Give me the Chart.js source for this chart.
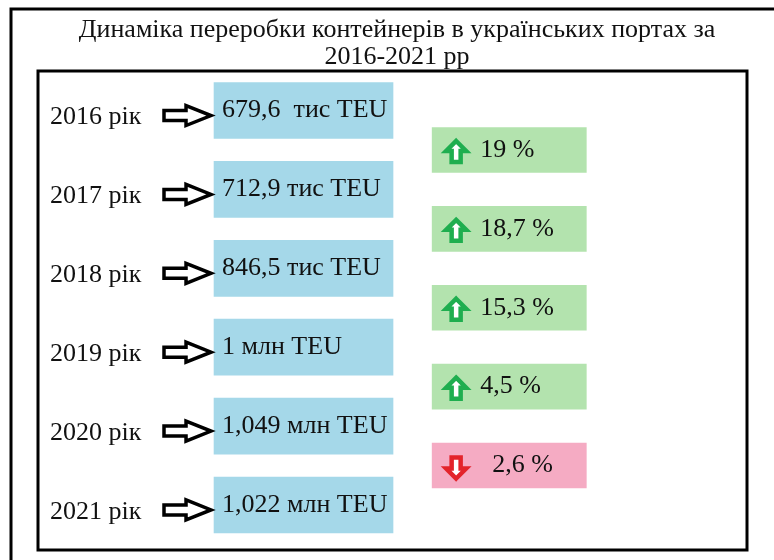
<!DOCTYPE html>
<html lang="uk">
<head>
    <meta charset="UTF-8">
    <title>Динаміка переробки контейнерів</title>
    <script src="https://cdn.jsdelivr.net/npm/chart.js"></script>
    <style>
        body { margin: 0; background: #fff; }
        #wrap { width: 774px; height: 560px; }
    </style>
</head>
<body>
    <div id="wrap"><canvas id="infoChart" width="774" height="560"></canvas></div>

    <script>
        // data
        const years = ['2016 рік', '2017 рік', '2018 рік', '2019 рік', '2020 рік', '2021 рік'];
        const volumeTeuK = [679.6, 712.9, 846.5, 1000, 1049, 1022];
        const volumeLabels = ['679,6  тис TEU', '712,9 тис TEU', '846,5 тис TEU', '1 млн TEU', '1,049 млн TEU', '1,022 млн TEU'];
        const changePct = [19, 18.7, 15.3, 4.5, -2.6];
        const changeLabels = ['19 %', '18,7 %', '15,3 %', '4,5 %', '2,6 %'];

        const FONT = '"Liberation Serif", "DejaVu Serif", serif';
        const BLUE_SPAN = [9.25, 39.9];   // box extent on the hidden x scale
        const CHANGE_SPAN = [46.6, 73.0];
        const CHANGE_SHIFT = 0.5;         // change boxes sit between year rows

        const blueBoxes = years.map((y, i) => ({ x: BLUE_SPAN, y: y, teu: volumeTeuK[i], text: volumeLabels[i] }));
        const changeBoxes = changePct.map((p, i) => ({ x: CHANGE_SPAN, y: i + CHANGE_SHIFT, pct: p, text: changeLabels[i] }));

        function blockArrow(ctx, x0, x1, y) {
            const xh = x1 - 25;
            ctx.beginPath();
            ctx.moveTo(x0, y - 5);
            ctx.lineTo(xh, y - 5);
            ctx.lineTo(xh, y - 10);
            ctx.lineTo(x1, y);
            ctx.lineTo(xh, y + 10);
            ctx.lineTo(xh, y + 5);
            ctx.lineTo(x0, y + 5);
            ctx.closePath();
            ctx.fillStyle = '#fff';
            ctx.fill();
            ctx.lineWidth = 3.5;
            ctx.lineJoin = 'miter';
            ctx.strokeStyle = '#000';
            ctx.stroke();
        }

        function trendArrow(ctx, cx, cy, up, color) {
            const d = up ? 1 : -1;
            const t = cy - 11 * d, b = cy + 10 * d, n = t + 10 * d;
            ctx.beginPath();
            ctx.moveTo(cx, t);
            ctx.lineTo(cx + 10, n);
            ctx.lineTo(cx + 4.5, n);
            ctx.lineTo(cx + 4.5, b);
            ctx.lineTo(cx - 4.5, b);
            ctx.lineTo(cx - 4.5, n);
            ctx.lineTo(cx - 10, n);
            ctx.closePath();
            ctx.fillStyle = '#fff';
            ctx.fill();
            ctx.lineWidth = 4.5;
            ctx.lineJoin = 'miter';
            ctx.strokeStyle = color;
            ctx.stroke();
        }

        const framePlugin = {
            id: 'frames',
            beforeDraw(chart) {
                const ctx = chart.ctx;
                ctx.save();
                ctx.fillStyle = '#fff';
                ctx.fillRect(0, 0, chart.width, chart.height);
                ctx.strokeStyle = '#000';
                ctx.lineWidth = 3;
                ctx.beginPath();
                ctx.moveTo(11, 560);
                ctx.lineTo(11, 9);
                ctx.lineTo(774, 9);
                ctx.stroke();
                ctx.strokeRect(38, 71, 709, 479);
                ctx.restore();
            }
        };

        const labelPlugin = {
            id: 'boxLabels',
            afterDatasetsDraw(chart) {
                const ctx = chart.ctx;
                ctx.save();
                ctx.font = '26px ' + FONT;
                ctx.textBaseline = 'middle';
                ctx.textAlign = 'left';

                chart.getDatasetMeta(0).data.forEach((bar, i) => {
                    const left = Math.min(bar.x, bar.base);
                    blockArrow(ctx, chart.chartArea.left + 4, left - 3, bar.y + 5);
                    ctx.fillStyle = '#111';
                    ctx.fillText(blueBoxes[i].text, left + 8, bar.y);
                });

                chart.getDatasetMeta(1).data.forEach((bar, i) => {
                    const left = Math.min(bar.x, bar.base);
                    const up = changeBoxes[i].pct >= 0;
                    trendArrow(ctx, left + 24, bar.y + 2, up, up ? '#1fae4f' : '#e3242b');
                    ctx.fillStyle = '#111';
                    ctx.fillText(changeBoxes[i].text, left + (up ? 48 : 60), bar.y);
                });
                ctx.restore();
            }
        };

        new Chart(document.getElementById('infoChart'), {
            type: 'bar',
            data: {
                labels: years,
                datasets: [
                    {
                        label: 'Обсяг',
                        data: blueBoxes,
                        yAxisID: 'y',
                        grouped: false,
                        backgroundColor: '#a5d8e9',
                        borderWidth: 0,
                        barThickness: 56
                    },
                    {
                        label: 'Зміна',
                        data: changeBoxes,
                        yAxisID: 'y2',
                        grouped: false,
                        backgroundColor: changePct.map(p => p >= 0 ? '#b3e3ae' : '#f5abc3'),
                        borderWidth: 0,
                        barThickness: 45
                    }
                ]
            },
            options: {
                indexAxis: 'y',
                responsive: false,
                animation: false,
                layout: { padding: { left: 50, right: 30, top: 0, bottom: 13 } },
                plugins: {
                    legend: { display: false },
                    tooltip: { enabled: false },
                    title: {
                        display: true,
                        text: ['Динаміка переробки контейнерів в українських портах за', '2016-2021 рр'],
                        color: '#111',
                        font: { family: FONT, size: 26, weight: 'normal', lineHeight: 1.04 },
                        padding: { top: 17, bottom: 0 }
                    }
                },
                scales: {
                    x: { display: false, min: 0, max: 100 },
                    y: {
                        type: 'category',
                        offset: true,
                        grid: { display: false },
                        border: { display: false },
                        ticks: {
                            color: '#111',
                            crossAlign: 'far',
                            padding: 0,
                            labelOffset: 7,
                            font: { family: FONT, size: 26 }
                        },
                        afterFit(scale) { scale.width = 110; }
                    },
                    y2: {
                        type: 'linear',
                        display: false,
                        offset: false,
                        reverse: true,
                        min: -0.5,
                        max: 5.5
                    }
                }
            },
            plugins: [framePlugin, labelPlugin]
        });
    </script>
</body>
</html>
